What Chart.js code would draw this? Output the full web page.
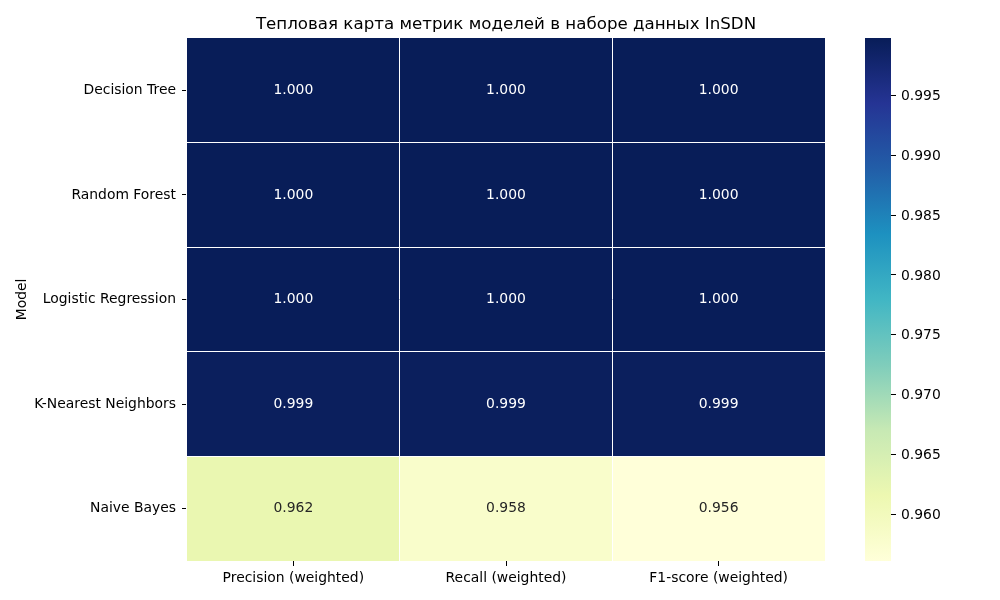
<!DOCTYPE html>
<html>
<head>
<meta charset="utf-8">
<script src="https://cdn.jsdelivr.net/npm/chart.js@4.4.0/dist/chart.umd.min.js"></script>
<style>
html,body{margin:0;padding:0;background:#fff;}
#wrap{position:relative;width:1000px;height:600px;}
#c1{position:absolute;left:0;top:0;}
#c2{position:absolute;left:840px;top:0;}
</style>
</head>
<body>
<div id="wrap">
<canvas id="c1" width="840" height="600"></canvas>
<canvas id="c2" width="160" height="600"></canvas>
</div>
<script>
const title = 'Тепловая карта метрик моделей в наборе данных InSDN';
const models = ['Decision Tree', 'Random Forest', 'Logistic Regression', 'K-Nearest Neighbors', 'Naive Bayes'];
const metrics = ['Precision (weighted)', 'Recall (weighted)', 'F1-score (weighted)'];
const precision = [0.99983, 0.99983, 0.99975, 0.99935, 0.9620];
const recall    = [0.99983, 0.99983, 0.99975, 0.99935, 0.9580];
const f1score   = [0.99983, 0.99983, 0.99975, 0.99935, 0.95607];
const colorbarTicks = [0.960, 0.965, 0.970, 0.975, 0.980, 0.985, 0.990, 0.995];
const ylgnbu = ['#ffffd9','#edf8b1','#c7e9b4','#7fcdbb','#41b6c4','#1d91c0','#225ea8','#253494','#081d58'];

const FONT = "'DejaVu Sans', sans-serif";
const all = precision.concat(recall, f1score);
const vmin = Math.min(...all), vmax = Math.max(...all);

function hex2rgb(h){return [parseInt(h.slice(1,3),16),parseInt(h.slice(3,5),16),parseInt(h.slice(5,7),16)];}
function cmap(t){
  t = Math.max(0, Math.min(1, t));
  const n = ylgnbu.length - 1;
  const p = t * n; const i = Math.min(Math.floor(p), n - 1); const f = p - i;
  const a = hex2rgb(ylgnbu[i]), b = hex2rgb(ylgnbu[i+1]);
  const c = a.map((v,k)=>Math.round(v + (b[k]-v)*f));
  return 'rgb(' + c.join(',') + ')';
}
function lum(t){
  const m = cmap(t).match(/\d+/g).map(Number).map(v=>{v/=255;return v<=0.03928?v/12.92:Math.pow((v+0.055)/1.055,2.4);});
  return 0.2126*m[0]+0.7152*m[1]+0.0722*m[2];
}
const norm = v => (v - vmin) / (vmax - vmin);
const rows = models.map((m,i)=>[precision[i], recall[i], f1score[i]]);

const annot = {
  id: 'annot',
  afterDraw(chart){
    const ctx = chart.ctx;
    ctx.save();
    ctx.font = '13.9px ' + FONT;
    ctx.textAlign = 'center';
    ctx.textBaseline = 'middle';
    chart.data.datasets.forEach((ds,i)=>{
      chart.getDatasetMeta(i).data.forEach((bar,j)=>{
        const v = rows[i][j];
        const c = bar.getCenterPoint();
        ctx.fillStyle = lum(norm(v)) > 0.408 ? '#262626' : '#ffffff';
        ctx.fillText(v.toFixed(3), c.x, c.y);
      });
    });
    ctx.restore();
  }
};

new Chart(document.getElementById('c1'), {
  type: 'bar',
  data: {
    labels: metrics,
    datasets: models.map((m,i)=>({
      label: m,
      data: metrics.map(()=>1),
      backgroundColor: rows[i].map(v=>cmap(norm(v))),
      borderWidth: 0,
      barPercentage: 1,
      categoryPercentage: 1
    }))
  },
  options: {
    responsive: false,
    animation: false,
    devicePixelRatio: 1,
    layout: {padding: {left:0, right:15, top:0, bottom:0}},
    plugins: {
      legend: {display:false},
      tooltip: {enabled:false},
      title: {display:true, text:title, fullSize:false, color:'#000', font:{family:FONT, size:16.67, weight:'normal'}, padding:{top:15, bottom:3}}
    },
    scales: {
      x: {
        type: 'category', stacked: true,
        grid: {offset:false, drawOnChartArea:false, drawTicks:true, tickLength:5, color:'#000', lineWidth:1},
        border: {display:false},
        ticks: {color:'#000', font:{family:FONT, size:13.9}, padding:4, maxRotation:0, autoSkip:false},
        afterFit: s => { s.height = 39; }
      },
      xg: {
        type: 'category', position: 'top',
        grid: {z: 1, offset:true, drawOnChartArea:true, drawTicks:false, color:'#ffffff', lineWidth:1},
        border: {display:false},
        ticks: {display:false},
        afterFit: s => { s.height = 0; }
      },
      y: {
        type: 'linear', stacked: true, reverse: true, min: 0, max: models.length,
        afterBuildTicks: s => { s.ticks = models.map((m,i)=>({value: i + 0.5})); },
        grid: {drawOnChartArea:false, drawTicks:true, tickLength:5, color:'#000', lineWidth:1},
        border: {display:false},
        ticks: {color:'#000', font:{family:FONT, size:13.9}, padding:6, autoSkip:false, callback: (v, idx) => models[idx]},
        title: {display:true, text:'Model', color:'#000', font:{family:FONT, size:13.9}, padding:{top:14, bottom:0}},
        afterFit: s => { s.width = 187; }
      },
      yg: {
        type: 'linear', position: 'right', reverse: true, min: 0, max: models.length,
        afterBuildTicks: s => { s.ticks = models.slice(1).map((m,i)=>({value: i + 1})); },
        grid: {z: 1, drawOnChartArea:true, drawTicks:false, color:'#ffffff', lineWidth:1},
        border: {display:false},
        ticks: {display:false},
        afterFit: s => { s.width = 0; }
      }
    }
  },
  plugins: [annot]
});

new Chart(document.getElementById('c2'), {
  type: 'bar',
  data: {
    labels: [''],
    datasets: [{
      data: [[vmin, vmax]],
      backgroundColor: (ctx) => {
        const ch = ctx.chart, a = ch.chartArea;
        if (!a) return ylgnbu[0];
        const g = ch.ctx.createLinearGradient(0, a.bottom, 0, a.top);
        ylgnbu.forEach((c,k)=>g.addColorStop(k/(ylgnbu.length-1), c));
        return g;
      },
      borderWidth: 0,
      barPercentage: 1,
      categoryPercentage: 1
    }]
  },
  options: {
    responsive: false,
    animation: false,
    devicePixelRatio: 1,
    layout: {padding: {left:25, right:0, top:38, bottom:39}},
    plugins: {legend:{display:false}, tooltip:{enabled:false}},
    scales: {
      x: {display:false},
      y: {
        position: 'right', min: vmin, max: vmax,
        afterBuildTicks: s => { s.ticks = colorbarTicks.map(v=>({value:v})); },
        grid: {drawOnChartArea:false, drawTicks:true, tickLength:5, color:'#000', lineWidth:1},
        border: {display:false},
        ticks: {color:'#000', font:{family:FONT, size:13.9}, padding:5, labelOffset:1, autoSkip:false, callback: v => Number(v).toFixed(3)},
        afterFit: s => { s.width = 109; }
      }
    }
  }
});
</script>
</body>
</html>
